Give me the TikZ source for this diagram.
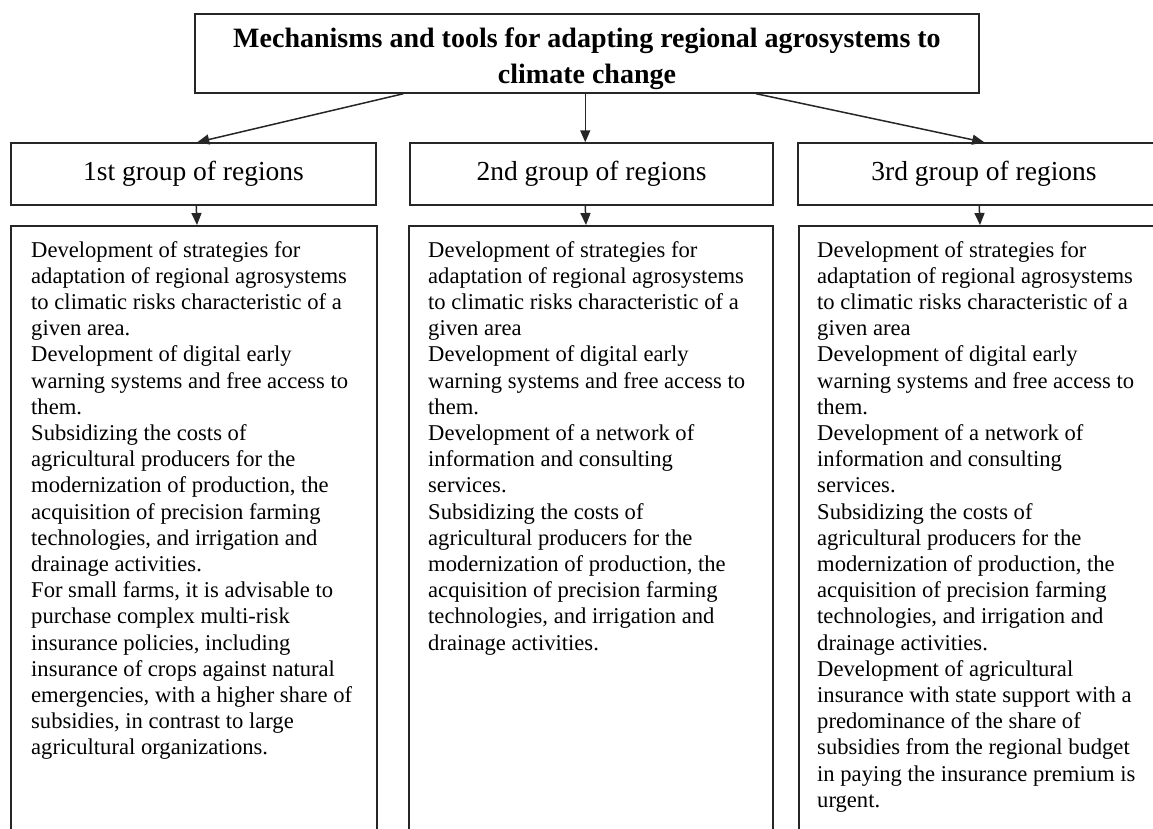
\documentclass[tikz,border=0pt]{standalone}
\usepackage{fontspec}
\setmainfont{Liberation Serif}
\usetikzlibrary{arrows.meta,calc}
\tikzset{
  boxline/.style={draw=black!85, line width=1.5pt},
  groupbox/.style={boxline, minimum height=62pt, inner sep=0pt, font=\fontsize{27.5}{30}\selectfont},
  contentbox/.style={boxline, minimum height=615pt, inner sep=0pt, anchor=north west},
  arr/.style={draw=black!85, line width=1.5pt, -{Triangle[length=12pt,width=10pt]}},
  bodytext/.style={anchor=base west, inner sep=0pt, font=\fontsize{22.6}{26.2}\selectfont},
}
\newcommand{\bodyblock}[1]{\parbox[t]{350pt}{\raggedright #1}}
\begin{document}
\begin{tikzpicture}[x=1pt,y=-1pt]
\useasboundingbox (0,0) rectangle (1153,828);
% top box
\node[boxline, minimum width=784pt, minimum height=79pt, inner sep=0pt] (top) at (587,53.5) {};
\node[anchor=base, inner sep=0pt, font=\fontsize{28}{36}\selectfont\bfseries] (toptext) at (587,47)
  {\parbox[t]{780pt}{\centering Mechanisms and tools for adapting regional agrosystems to\\climate change}};
% group boxes
\node[groupbox, minimum width=365pt] (g1) at (193.5,174) {1st group of regions};
\node[groupbox, minimum width=363pt] (g2) at (591.5,174) {2nd group of regions};
\node[groupbox, minimum width=372pt] (g3) at (984,174) {3rd group of regions};
% content boxes
\node[contentbox, minimum width=366pt] (c1) at (10,225) {};
\node[contentbox, minimum width=364pt] (c2) at (408,225) {};
\node[contentbox, minimum width=372pt] (c3) at (798,225) {};
% arrows from top
\draw[arr] ($(top.south west)+(209,0)$) -- ($(g1.north west)+(187,0)$);
\draw[arr] ($(top.south west)+(391,0)$) -- ($(g2.north west)+(176,0)$);
\draw[arr] ($(top.south west)+(562,0)$) -- ($(g3.north west)+(187,0)$);
% arrows group -> content
\draw[arr] ($(g1.south west)+(186,0)$) -- ($(c1.north west)+(187,0)$);
\draw[arr] ($(g2.south west)+(176,0)$) -- ($(c2.north west)+(178,0)$);
\draw[arr] ($(g3.south west)+(182,0)$) -- ($(c3.north west)+(182,0)$);
% texts
\node[bodytext] (t1) at (31,257) {\bodyblock{Development of strategies for\\
adaptation of regional agrosystems\\
to climatic risks characteristic of a\\
given area.\\
Development of digital early\\
warning systems and free access to\\
them.\\
Subsidizing the costs of\\
agricultural producers for the\\
modernization of production, the\\
acquisition of precision farming\\
technologies, and irrigation and\\
drainage activities.\\
For small farms, it is advisable to\\
purchase complex multi-risk\\
insurance policies, including\\
insurance of crops against natural\\
emergencies, with a higher share of\\
subsidies, in contrast to large\\
agricultural organizations.}};
\node[bodytext] (t2) at (428,257) {\bodyblock{Development of strategies for\\
adaptation of regional agrosystems\\
to climatic risks characteristic of a\\
given area\\
Development of digital early\\
warning systems and free access to\\
them.\\
Development of a network of\\
information and consulting\\
services.\\
Subsidizing the costs of\\
agricultural producers for the\\
modernization of production, the\\
acquisition of precision farming\\
technologies, and irrigation and\\
drainage activities.}};
\node[bodytext] (t3) at (817,257) {\bodyblock{Development of strategies for\\
adaptation of regional agrosystems\\
to climatic risks characteristic of a\\
given area\\
Development of digital early\\
warning systems and free access to\\
them.\\
Development of a network of\\
information and consulting\\
services.\\
Subsidizing the costs of\\
agricultural producers for the\\
modernization of production, the\\
acquisition of precision farming\\
technologies, and irrigation and\\
drainage activities.\\
Development of agricultural\\
insurance with state support with a\\
predominance of the share of\\
subsidies from the regional budget\\
in paying the insurance premium is\\
urgent.}};
\end{tikzpicture}
\end{document}
